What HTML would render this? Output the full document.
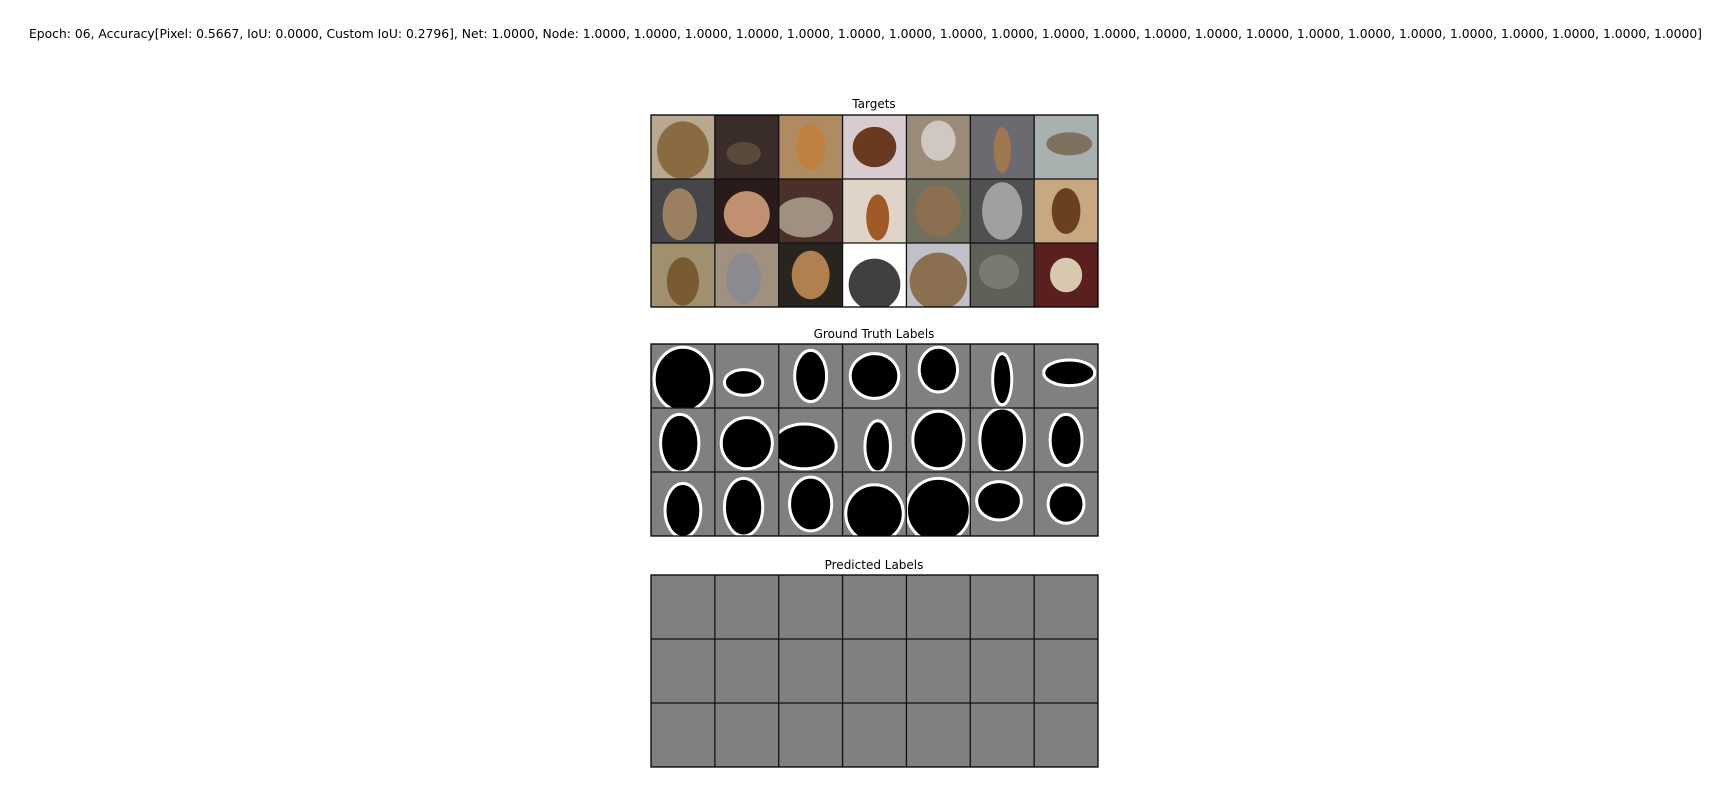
<!DOCTYPE html>
<html><head><meta charset="utf-8"><style>
html,body{margin:0;padding:0;background:#fff;}
svg{display:block;font-family:"DejaVu Sans","Liberation Sans",sans-serif;}
</style></head><body>
<svg id="fig" width="1730" height="796" viewBox="0 0 1730 796">
<defs id="defs"></defs>
<text x="865.5" y="38" font-size="12" text-anchor="middle" textLength="1673" lengthAdjust="spacingAndGlyphs">Epoch: 06, Accuracy[Pixel: 0.5667, IoU: 0.0000, Custom IoU: 0.2796], Net: 1.0000, Node: 1.0000, 1.0000, 1.0000, 1.0000, 1.0000, 1.0000, 1.0000, 1.0000, 1.0000, 1.0000, 1.0000, 1.0000, 1.0000, 1.0000, 1.0000, 1.0000, 1.0000, 1.0000, 1.0000, 1.0000, 1.0000, 1.0000]</text>
<text x="874" y="108" font-size="12" text-anchor="middle">Targets</text>
<text x="874" y="338" font-size="12" text-anchor="middle">Ground Truth Labels</text>
<text x="874" y="569" font-size="12" text-anchor="middle">Predicted Labels</text>
<g id="g1"></g>
<g id="g2"></g>
<g id="g3"></g>
</svg>
<script>
const bgColors=["#b8a890","#3a2c28","#b08a60","#d8ccd0","#9a8c78","#6a6a70","#a8b0b0",
"#45454a","#2a1a1c","#4a3028","#e0d4c8","#707060","#505050","#c8a880",
"#a09070","#a09080","#282420","#ffffff","#c0c0c8","#606058","#5a2020"];
const catColors=["#8a6a40","#5a4a3a","#c08040","#6a3a20","#d0c8c0","#a07850","#807060",
"#9a8060","#c09070","#a09080","#a05a28","#8a7050","#a0a0a0","#6a4020",
"#7a5a30","#8a8a90","#b08050","#404040","#8a7050","#7a7a70","#d8c8b0"];
const blobs=[[0.5,0.55,0.45,0.5],[0.45,0.6,0.3,0.2],[0.5,0.5,0.25,0.4],[0.5,0.5,0.38,0.35],[0.5,0.4,0.3,0.35],[0.5,0.55,0.15,0.4],[0.55,0.45,0.4,0.2],
[0.45,0.55,0.3,0.45],[0.5,0.55,0.4,0.4],[0.4,0.6,0.5,0.35],[0.55,0.6,0.2,0.4],[0.5,0.5,0.4,0.45],[0.5,0.5,0.35,0.5],[0.5,0.5,0.25,0.4],
[0.5,0.6,0.28,0.42],[0.45,0.55,0.3,0.45],[0.5,0.5,0.33,0.42],[0.5,0.65,0.45,0.45],[0.5,0.6,0.5,0.5],[0.45,0.45,0.35,0.3],[0.5,0.5,0.28,0.3]];
const X0=651,W=447,C=7,R=3,cw=W/C,ch=64;
const ns="http://www.w3.org/2000/svg";
const defs=document.getElementById("defs");
function mk(t,a,p){const e=document.createElementNS(ns,t);for(const k in a)e.setAttribute(k,a[k]);p.appendChild(e);return e;}
function grid(gid,y0,kind){
 const g=document.getElementById(gid);
 for(let r=0;r<R;r++)for(let c=0;c<C;c++){
  const i=r*C+c,x=X0+c*cw,y=y0+r*ch,id=gid+"c"+i;
  const cp=mk("clipPath",{id:id},defs);
  mk("rect",{x:x,y:y,width:cw,height:ch},cp);
  const bg=kind==="t"?bgColors[i]:"#808080";
  const cell=mk("g",{"clip-path":"url(#"+id+")"},g);
  
  
  mk("rect",{x:x,y:y,width:cw,height:ch,fill:bg},cell);
  const b=blobs[i];
  if(kind==="t"){
   mk("ellipse",{cx:x+b[0]*cw,cy:y+b[1]*ch,rx:b[2]*cw*0.9,ry:b[3]*ch*0.9,fill:catColors[i]},cell);
  } else if(kind==="g"){
   mk("ellipse",{cx:x+b[0]*cw,cy:y+b[1]*ch,rx:b[2]*cw,ry:b[3]*ch,fill:"#000",stroke:"#fff","stroke-width":3},cell);
  }
 }
 for(let c=1;c<C;c++)mk("line",{x1:X0+c*cw,y1:y0,x2:X0+c*cw,y2:y0+R*ch,stroke:"#111","stroke-width":1.3},g);
 for(let r=1;r<R;r++)mk("line",{x1:X0,y1:y0+r*ch,x2:X0+W,y2:y0+r*ch,stroke:"#111","stroke-width":1.3},g);
 mk("rect",{x:X0,y:y0,width:W,height:R*ch,fill:"none",stroke:"#000","stroke-width":1.3},g);
}
grid("g1",115,"t");grid("g2",344,"g");grid("g3",575,"p");
</script>
</body></html>
